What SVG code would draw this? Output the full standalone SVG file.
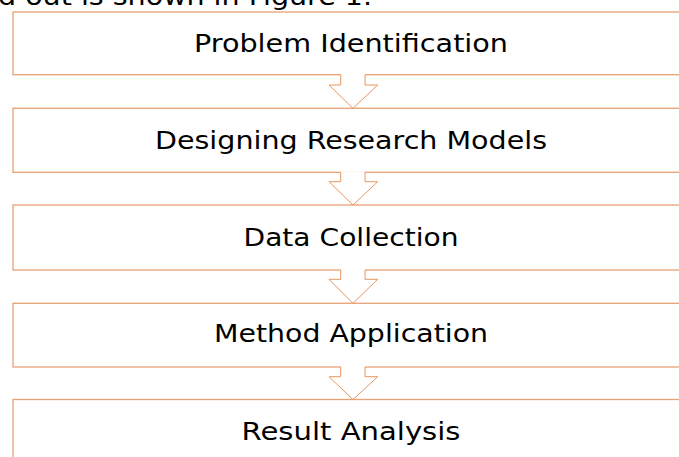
<svg xmlns="http://www.w3.org/2000/svg" width="679" height="457" viewBox="0 0 679 457">
  <style>
    .box { fill: #ffffff; stroke: #E9A074; stroke-width: 1.3; }
    .arrow-fill { fill: #ffffff; stroke: none; }
    .arrow-line { fill: none; stroke: #E8965F; stroke-width: 1; }
    .label { font-family: "DejaVu Sans", Verdana, sans-serif; font-size: 24.5px; fill: #000000; text-anchor: middle; }
    .body { font-family: "DejaVu Sans", Verdana, sans-serif; font-size: 24.5px; fill: #000000; }
  </style>

  <!-- running text above the flowchart -->
  <text class="body" x="-2" y="5" textLength="374" lengthAdjust="spacingAndGlyphs">d out is shown in Figure 1.</text>

  <g id="step1">
    <rect class="box" x="13" y="12" width="700" height="62.7"/>
    <text class="label" x="351" y="51.5" textLength="314" lengthAdjust="spacingAndGlyphs">Problem Identification</text>
  </g>
  <g id="step2">
    <rect class="box" x="13" y="108.3" width="700" height="64"/>
    <text class="label" x="351" y="148.5" textLength="392" lengthAdjust="spacingAndGlyphs">Designing Research Models</text>
  </g>
  <g id="step3">
    <rect class="box" x="13" y="205" width="700" height="65"/>
    <text class="label" x="351" y="246" textLength="215" lengthAdjust="spacingAndGlyphs">Data Collection</text>
  </g>
  <g id="step4">
    <rect class="box" x="13" y="303.3" width="700" height="63.7"/>
    <text class="label" x="351" y="342" textLength="274" lengthAdjust="spacingAndGlyphs">Method Application</text>
  </g>
  <g id="step5">
    <rect class="box" x="13" y="399.5" width="700" height="80"/>
    <text class="label" x="351" y="440" textLength="219" lengthAdjust="spacingAndGlyphs">Result Analysis</text>
  </g>

  <!-- block arrows between consecutive steps -->
  <g id="connectors">
    <g transform="translate(0,74.7)">
      <polygon class="arrow-fill" points="340.7,-1 365,-1 365,10.3 377.7,10.3 353,33.6 329,10.3 340.7,10.3"/>
      <polyline class="arrow-line" points="340.7,0 340.7,10.3 329,10.3 353,33.6 377.7,10.3 365,10.3 365,0"/>
    </g>
    <g transform="translate(0,172.3)">
      <polygon class="arrow-fill" points="340.7,-1 365,-1 365,9.4 377.7,9.4 353,32.7 329,9.4 340.7,9.4"/>
      <polyline class="arrow-line" points="340.7,0 340.7,9.4 329,9.4 353,32.7 377.7,9.4 365,9.4 365,0"/>
    </g>
    <g transform="translate(0,270)">
      <polygon class="arrow-fill" points="340.7,-1 365,-1 365,9.3 377.7,9.3 353,33.3 329,9.3 340.7,9.3"/>
      <polyline class="arrow-line" points="340.7,0 340.7,9.3 329,9.3 353,33.3 377.7,9.3 365,9.3 365,0"/>
    </g>
    <g transform="translate(0,367)">
      <polygon class="arrow-fill" points="340.7,-1 365,-1 365,9.7 377.7,9.7 353,32.5 329,9.7 340.7,9.7"/>
      <polyline class="arrow-line" points="340.7,0 340.7,9.7 329,9.7 353,32.5 377.7,9.7 365,9.7 365,0"/>
    </g>
  </g>
</svg>
